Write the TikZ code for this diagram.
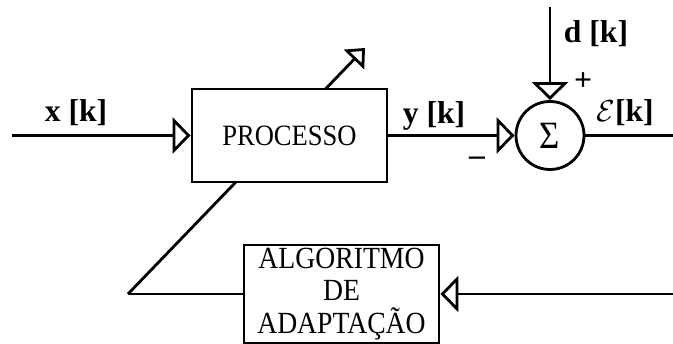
\documentclass[tikz,border=0pt]{standalone}
\usepackage{fontspec}
\setmainfont{Liberation Serif}
\newfontfamily\caixa[FakeStretch=0.9]{Liberation Serif}
\usepackage{amsmath}
\usepackage{tikz}
\usetikzlibrary{arrows.meta}

\tikzset{
    bloco/.style={draw, fill=white, align=center, font=\fontsize{16.8}{18.7}\caixa},
    seta/.style={-{Triangle[open, length=0.36cm, width=0.72cm]}},
    rotulo/.style={font=\fontsize{18}{20}\selectfont\bfseries}
}

\begin{document}
\begin{tikzpicture}[line width=1.6pt]
        \useasboundingbox (0, 0) rectangle (13.46, 6.88);
        \coordinate (X) at (0.24, 4.17);
        \coordinate (D) at (11.0, 6.74);
        \coordinate (E) at (13.46, 4.17);
        \coordinate (R) at (13.46, 1.00);
        \coordinate (K) at (2.56, 1.00);
        \coordinate (T) at (7.30, 5.92);
        \draw[-{Triangle[open, length=0.32cm, width=0.56cm]}] (K) -- (T);
        \node[bloco, minimum width=3.90cm, minimum height=1.86cm] (proc) at (5.79, 4.17) {PROCESSO};
        \node[bloco, font=\fontsize{17.5}{18.7}\caixa, minimum width=3.90cm, minimum height=1.96cm, inner sep=0pt] (alg) at (6.83, 1.00) {ALGORITMO\\DE\\ADAPTAÇÃO};
        \node[draw, circle, minimum size=1.36cm, inner sep=0pt, font=\fontsize{22}{24}\caixa] (sum) at (11.0, 4.17) {Σ};
        \draw[seta] (X) -- (proc.west);
        \draw[seta] (proc.east) -- (sum.west);
        \draw[seta] (D) -- (sum.north);
        \draw (sum.east) -- (E);
        \draw[seta] (R) -- (alg.east);
        \draw (alg.west) -- (K);
        \node[rotulo] (lx) at (1.52, 4.62) {x [k]};
        \node[rotulo] (ly) at (8.68, 4.56) {y [k]};
        \node[rotulo] (le) at (12.50, 4.62) {$\mathcal{E}$[k]};
        \node[rotulo] (ld) at (11.92, 6.20) {d [k]};
        \node[rotulo] (lp) at (11.66, 5.24) {+};
        \node[rotulo] (lm) at (9.54, 3.66) {--};
    \end{tikzpicture}
\end{document}
